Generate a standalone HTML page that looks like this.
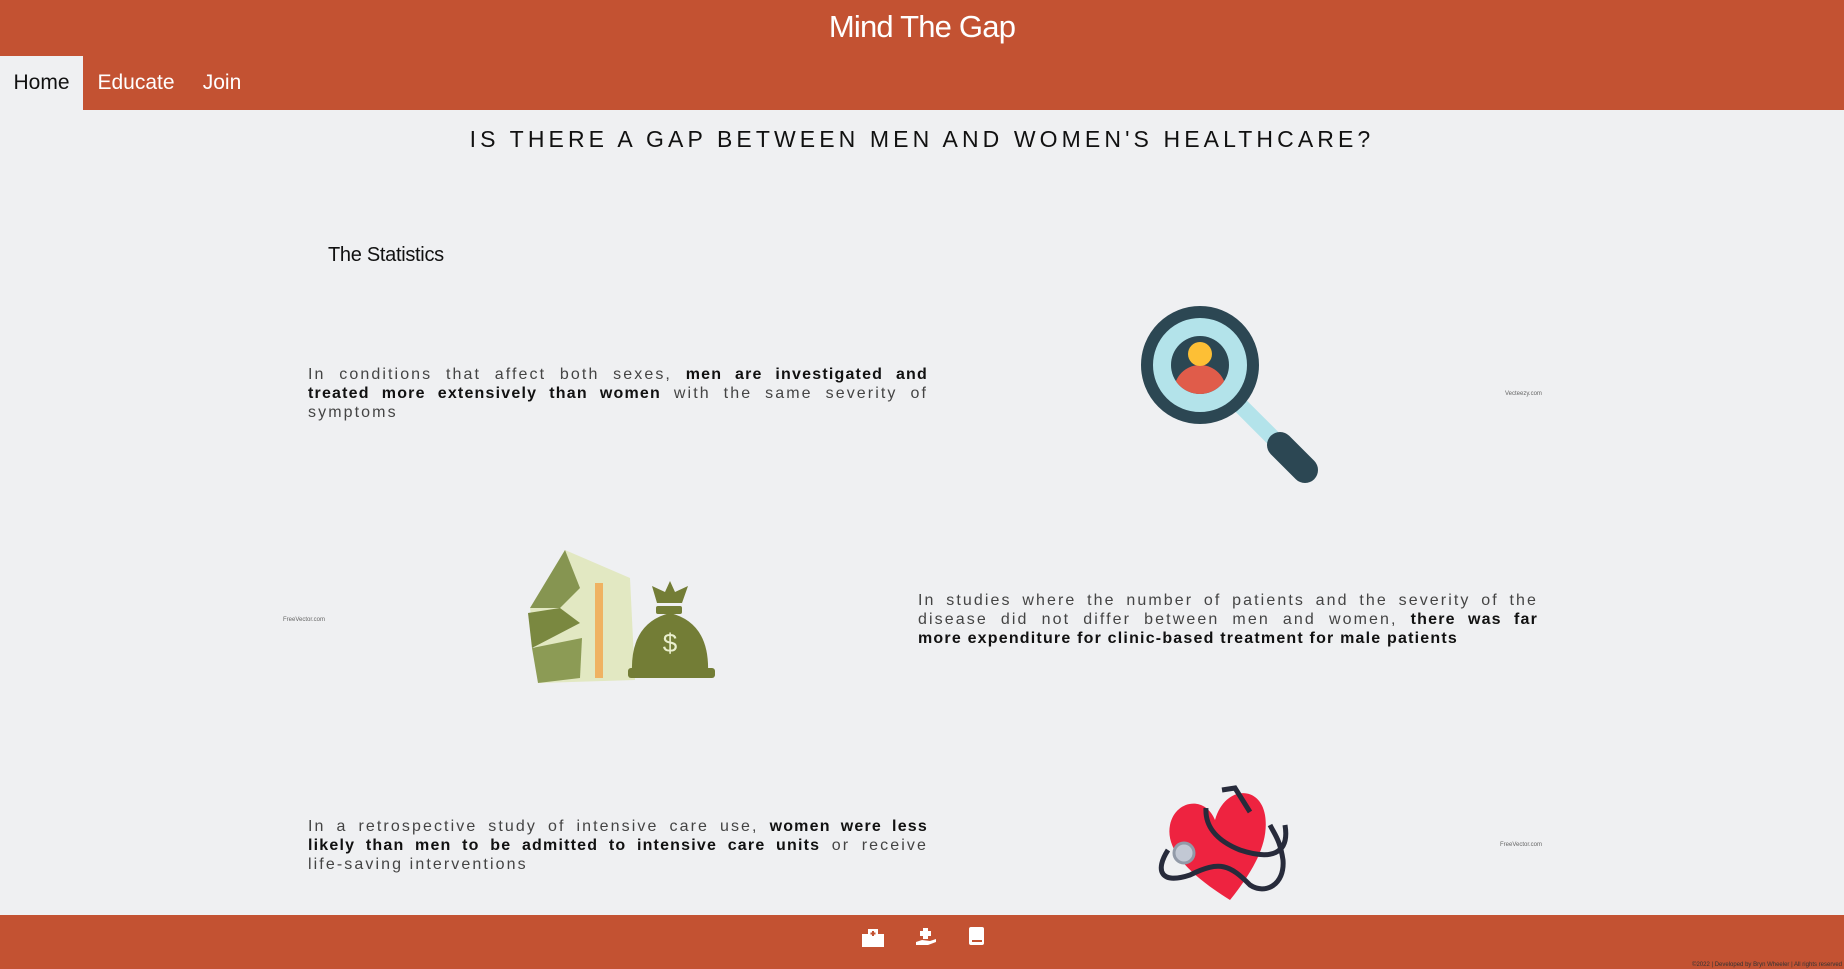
<!DOCTYPE html>
<html><head><meta charset="utf-8"><style>
*{margin:0;padding:0;box-sizing:border-box}
body{width:1844px;height:969px;background:#eff0f2;font-family:"Liberation Sans",sans-serif;position:relative;overflow:hidden;color:#111}
.abs{position:absolute}
header{position:absolute;left:0;top:0;width:1844px;height:110px;background:#c35232}
h1{position:absolute;top:9px;width:100%;text-align:center;color:#fff;font-size:31px;font-weight:normal;letter-spacing:-0.8px}
.tab{position:absolute;top:56px;height:54px;line-height:54px;font-size:21px;color:#fff;text-align:center}
h2{position:absolute;left:0;width:1844px;top:126px;text-align:center;font-size:23px;font-weight:normal;letter-spacing:4.1px}
p.t{position:absolute;width:620px;font-size:16px;line-height:19px;letter-spacing:2.1px;text-align:justify;color:#444}
p.t b{color:#111;letter-spacing:1.2px}
.nw{white-space:nowrap}
.credit{position:absolute;font-size:6px;color:#666}
footer{position:absolute;left:0;top:915px;width:1844px;height:54px;background:#c35232}
</style></head><body>
<header>
<h1>Mind The Gap</h1>
<div class="tab" style="left:0;width:83px;background:#eff0f2;color:#111">Home</div>
<div class="tab" style="left:83px;width:106px">Educate</div>
<div class="tab" style="left:189px;width:66px">Join</div>
</header>
<h2>IS THERE A GAP BETWEEN MEN AND WOMEN'S HEALTHCARE?</h2>
<div class="abs" style="left:328px;top:244px;font-size:20px;letter-spacing:-0.3px">The Statistics</div>

<p class="t" style="left:308px;top:365px">In conditions that affect both sexes, <b>men are investigated and treated more extensively than women</b> with the same severity of symptoms</p>

<svg class="abs" style="left:1130px;top:295px" width="200" height="200">
<line x1="100" y1="100" x2="175" y2="175" stroke="#b3e3ea" stroke-width="16"/>
<line x1="150" y1="150" x2="175" y2="175" stroke="#2c4753" stroke-width="26" stroke-linecap="round"/>
<circle cx="70" cy="70" r="53" fill="#b3e3ea" stroke="#2c4753" stroke-width="12"/>
<circle cx="70" cy="70" r="29" fill="#2c4753"/>
<clipPath id="c1"><circle cx="70" cy="70" r="29"/></clipPath>
<circle cx="70" cy="96" r="26" fill="#e05c4a" clip-path="url(#c1)"/>
<circle cx="70" cy="59" r="12" fill="#fdbf35"/>
</svg>
<div class="credit" style="left:1505px;top:391px">Vecteezy.com</div>

<svg class="abs" style="left:520px;top:548px" width="200" height="140">
<polygon points="45,2 10,60 20,135 115,132 110,30" fill="#e2e8c2"/>
<polygon points="45,2 10,60 40,60 60,40" fill="#869551"/>
<polygon points="8,65 40,60 60,75 12,100" fill="#7a8840"/>
<polygon points="12,100 62,90 60,130 18,135" fill="#8c9b55"/>
<rect x="75" y="35" width="8" height="95" fill="#f3a44a" opacity="0.8"/>
<path d="M112,125 Q110,75 150,65 Q190,75 188,125 Z" fill="#737d36"/>
<rect x="108" y="120" width="87" height="10" rx="3" fill="#737d36"/>
<rect x="136" y="58" width="26" height="8" rx="2" fill="#737d36"/>
<path d="M137,55 L132,38 L145,44 L150,33 L155,44 L168,38 L162,55Z" fill="#737d36"/>
<text x="150" y="104" font-size="26" fill="#eaefcf" text-anchor="middle" font-family="Liberation Sans">$</text>
</svg>
<div class="credit" style="left:283px;top:617px">FreeVector.com</div>

<p class="t" style="left:918px;top:591px">In studies where the number of patients and the severity of the disease did not differ between men and women, <b>there was far <span class="nw">more expenditure</span> for clinic-based treatment for male patients</b></p>

<svg class="abs" style="left:1150px;top:780px" width="160" height="130">
<path d="M80,120 C40,95 15,70 20,45 C25,20 55,15 65,40 C75,5 110,5 115,35 C120,65 100,95 80,120Z" fill="#ee2340"/>
<path d="M72,10 L85,8 L100,32 M56,28 C55,45 65,60 90,70 C120,80 140,75 135,45 M18,70 C5,90 10,105 40,95 C70,80 80,85 100,105 C115,115 135,105 133,80 C130,60 125,55 120,45" stroke="#272b3b" stroke-width="5" fill="none"/>
<circle cx="34" cy="73" r="10" fill="#c2c8d4" stroke="#929aa8" stroke-width="3"/>
</svg>
<div class="credit" style="left:1500px;top:842px">FreeVector.com</div>

<p class="t" style="left:308px;top:817px">In a retrospective study of intensive care use, <b>women were less likely than men to be admitted to intensive care units</b> or receive <span class="nw">life-saving</span> interventions</p>

<footer>
<svg class="abs" style="left:862px;top:14px" width="22" height="18"><rect x="0" y="5" width="22" height="13" fill="#fff"/><rect x="6" y="0" width="10" height="18" fill="#fff"/><rect x="10" y="2" width="2" height="5" fill="#c35232"/><rect x="8.5" y="3.5" width="5" height="2" fill="#c35232"/></svg>
<svg class="abs" style="left:916px;top:13px" width="20" height="18"><rect x="7" y="0" width="5" height="11" fill="#fff"/><rect x="4" y="3" width="11" height="5" fill="#fff"/><path d="M0,14 L6,12 L14,13 L20,11 L20,14 L12,17 L0,17Z" fill="#fff"/></svg>
<svg class="abs" style="left:969px;top:12px" width="15" height="18"><rect x="0" y="0" width="15" height="18" rx="2" fill="#fff"/><rect x="3" y="13" width="10" height="2" fill="#c35232"/></svg>
<div class="abs" style="right:2px;bottom:1px;font-size:6px;color:#333">©2022 | Developed by Bryn Wheeler | All rights reserved</div>
</footer>
</body></html>
